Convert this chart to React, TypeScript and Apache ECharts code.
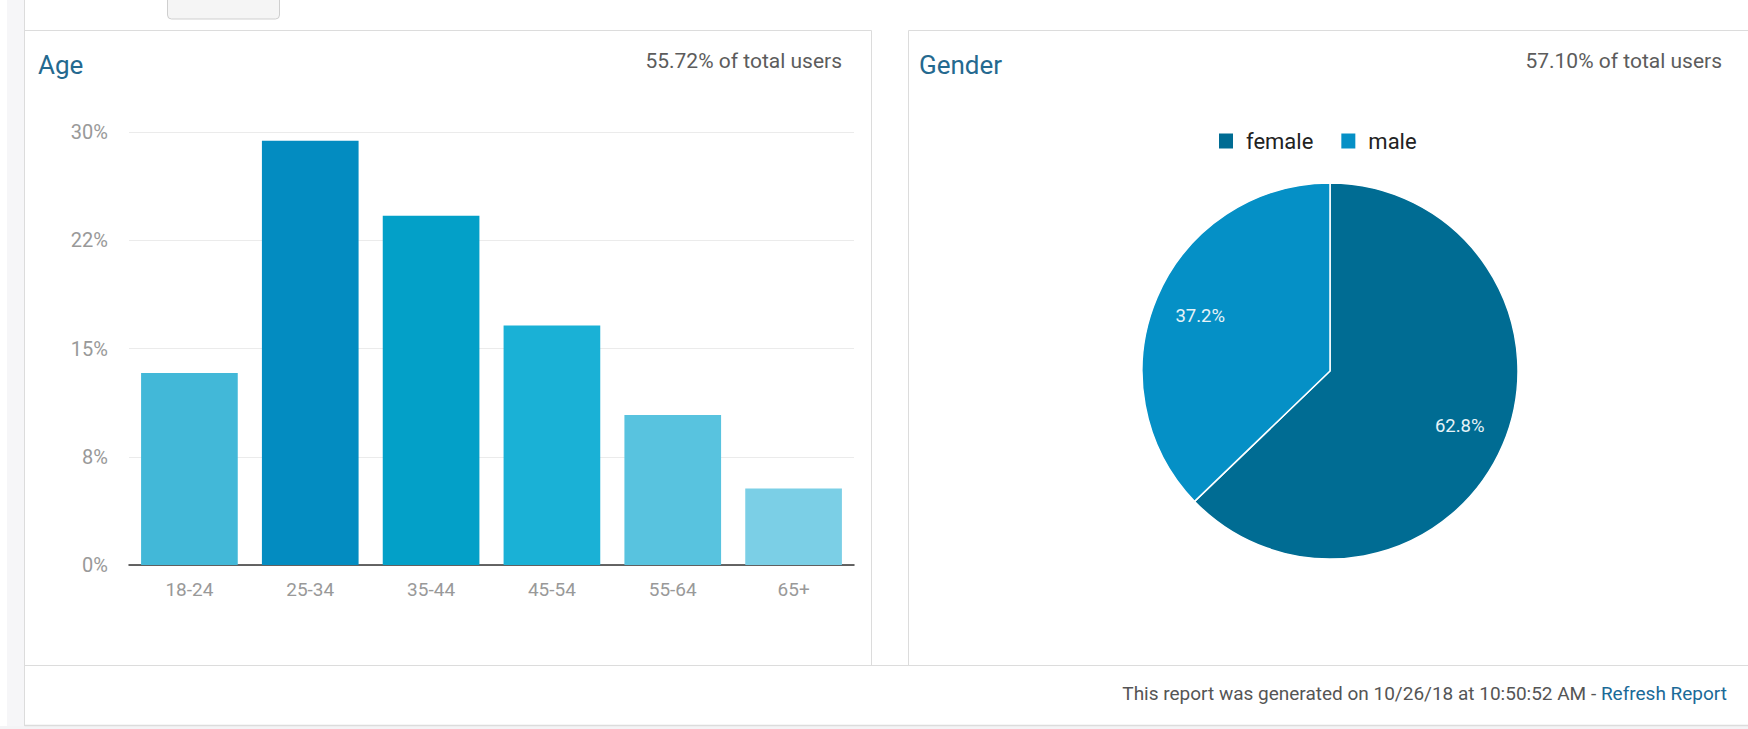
import React, { useEffect, useRef } from 'react';
import * as echarts from 'echarts';

const ageCategories = ['18-24', '25-34', '35-44', '45-54', '55-64', '65+'];
const ageValues = [13.3, 29.4, 24.2, 16.6, 10.4, 5.3];
const ageColors = ['#42b8d8', '#038cc1', '#03a0c8', '#1ab1d6', '#58c3df', '#7bcfe6'];
const yTickLabels = ['0%', '8%', '15%', '22%', '30%'];
const genderNames = ['female', 'male'];
const genderValues = [62.8, 37.2];
const genderColors = ['#006c93', '#0590c6'];

const ageTitle = 'Age';
const ageSubtitle = '55.72% of total users';
const genderTitle = 'Gender';
const genderSubtitle = '57.10% of total users';
const footerText = 'This report was generated on 10/26/18 at 10:50:52 AM - ';
const footerLink = 'Refresh Report';

const FONT = 'Roboto, "Noto Sans", sans-serif';
const TITLE_COLOR = '#24698f';
const SUB_COLOR = '#5c5c5c';

function txt(x: number, y: number, text: string, size: number, fill: string, align: string) {
  return {
    type: 'text',
    x,
    y,
    silent: true,
    style: {
      text,
      fill,
      fontSize: size,
      fontFamily: FONT,
      align,
      textAlign: align,
      verticalAlign: 'middle',
      textVerticalAlign: 'middle',
    },
  };
}

export default function App() {
  const ref = useRef<HTMLDivElement>(null);

  useEffect(() => {
    if (!ref.current) return;
    const chart = echarts.init(ref.current, undefined, { renderer: 'svg' });
    const border = '#dcdcdc';
    const option: any = {
      animation: false,
      backgroundColor: '#ffffff',
      textStyle: { fontFamily: FONT },
      graphic: {
        elements: [
          { type: 'rect', silent: true, shape: { x: 7, y: 0, width: 17, height: 729 }, style: { fill: '#f6f6f8' } },
          { type: 'rect', silent: true, shape: { x: 0, y: 726, width: 1748, height: 3 }, style: { fill: '#f4f4f6' } },
          { type: 'rect', silent: true, shape: { x: 167.5, y: -6, width: 112, height: 25, r: 4 }, style: { fill: '#f5f5f5', stroke: '#cfcfcf', lineWidth: 1 } },
          { type: 'rect', silent: true, shape: { x: 24.5, y: 30.5, width: 847, height: 635 }, style: { fill: 'none', stroke: border, lineWidth: 1 } },
          { type: 'rect', silent: true, shape: { x: 908.5, y: 30.5, width: 860, height: 635 }, style: { fill: 'none', stroke: border, lineWidth: 1 } },
          { type: 'line', silent: true, shape: { x1: 24.5, y1: 0, x2: 24.5, y2: 726 }, style: { stroke: border, lineWidth: 1 } },
          { type: 'line', silent: true, shape: { x1: 24.5, y1: 665.5, x2: 1748, y2: 665.5 }, style: { stroke: border, lineWidth: 1 } },
          { type: 'line', silent: true, shape: { x1: 24.5, y1: 725.5, x2: 1748, y2: 725.5 }, style: { stroke: border, lineWidth: 1.5 } },
          txt(38, 65, ageTitle, 26, TITLE_COLOR, 'left'),
          txt(842, 61, ageSubtitle, 21, SUB_COLOR, 'right'),
          txt(919, 65, genderTitle, 26, TITLE_COLOR, 'left'),
          txt(1722, 61, genderSubtitle, 21, SUB_COLOR, 'right'),
          {
            type: 'text',
            x: 1727,
            y: 693,
            silent: true,
            style: {
              text: '{g|' + footerText + '}{b|' + footerLink + '}',
              align: 'right',
              textAlign: 'right',
              verticalAlign: 'middle',
              textVerticalAlign: 'middle',
              fontSize: 19,
              fontFamily: FONT,
              rich: {
                g: { fill: '#555555', color: '#555555', fontSize: 19, fontFamily: FONT },
                b: { fill: '#1a6a98', color: '#1a6a98', fontSize: 19, fontFamily: FONT },
              },
            },
          },
        ],
      },
      legend: {
        data: genderNames,
        left: 1212,
        top: 125,
        icon: 'rect',
        itemWidth: 16,
        itemHeight: 17,
        itemGap: 26,
        selectedMode: false,
        textStyle: { fontSize: 22, color: '#222222', fontFamily: FONT, lineHeight: 22, padding: [0, 0, 0, 7] },
      },
      grid: { left: 129, top: 132, width: 725, height: 433, containLabel: false },
      xAxis: {
        type: 'category',
        data: ageCategories,
        axisLine: { show: true, lineStyle: { color: '#333333', width: 1.5 } },
        axisTick: { show: false },
        axisLabel: { color: '#999999', fontSize: 19, margin: 15, fontFamily: FONT },
      },
      yAxis: {
        type: 'value',
        min: 0,
        max: 30,
        interval: 7.5,
        axisLine: { show: false },
        axisTick: { show: false },
        splitLine: { lineStyle: { color: '#ebebeb', width: 1 } },
        axisLabel: {
          color: '#999999',
          fontSize: 20,
          margin: 21,
          fontFamily: FONT,
          formatter: (v: number) => yTickLabels[Math.round(v / 7.5)] ?? '',
        },
      },
      series: [
        {
          type: 'bar',
          barCategoryGap: '20%',
          data: ageValues.map((v, i) => ({ value: v, itemStyle: { color: ageColors[i] } })),
          silent: true,
        },
        {
          type: 'pie',
          center: [1330, 371],
          radius: 188,
          startAngle: 90,
          clockwise: true,
          silent: true,
          label: { show: false },
          labelLine: { show: false },
          itemStyle: { borderColor: '#ffffff', borderWidth: 1.5 },
          data: genderNames.map((n, i) => ({ name: n, value: genderValues[i], itemStyle: { color: genderColors[i] } })),
        },
        {
          type: 'pie',
          center: [1330, 371],
          radius: [130, 146],
          startAngle: 90,
          clockwise: true,
          silent: true,
          itemStyle: { color: 'rgba(0,0,0,0)', borderWidth: 0 },
          emphasis: { disabled: true },
          labelLine: { show: false },
          label: {
            show: true,
            position: 'inside',
            color: '#e6f3f8',
            fontSize: 18.5,
            fontFamily: FONT,
            formatter: (p: any) => p.value.toFixed(1) + '%',
          },
          data: genderNames.map((n, i) => ({ name: n + ' ', value: genderValues[i] })),
        },
      ],
    };
    chart.setOption(option);
    return () => chart.dispose();
  }, []);

  return (
    <div
      ref={ref}
      style={{ position: 'fixed', left: 0, top: 0, width: 1748, height: 729 }}
    />
  );
}
